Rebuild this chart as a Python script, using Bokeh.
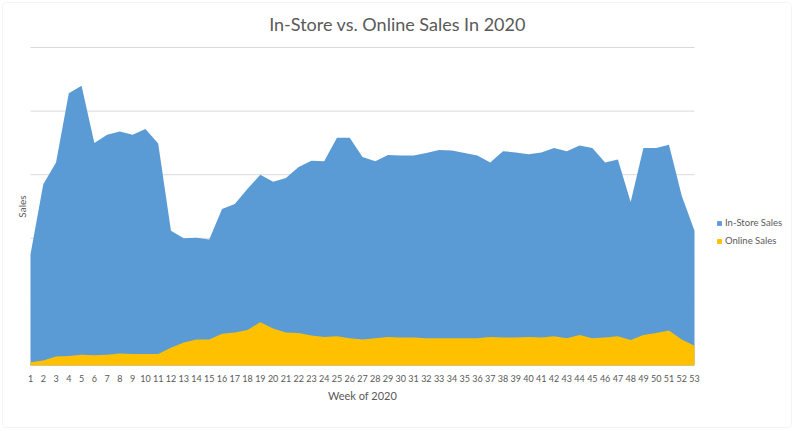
import math
from bokeh.plotting import figure
from bokeh.models import Range1d, FixedTicker, Legend, LegendItem, Label, BoxAnnotation
from bokeh.embed import file_html
from bokeh.resources import INLINE

weeks = list(range(1, 54))
in_store = [175, 285, 319, 428, 440, 350, 363, 368, 363, 372, 349, 212, 200, 201, 198,
            246, 254, 278, 300, 289, 295, 312, 322, 321, 358, 358, 328, 321, 331, 330,
            330, 334, 339, 338, 334, 330, 319, 337, 335, 332, 335, 342, 337, 346, 342,
            319, 324, 257, 342, 342, 347, 267, 212]
online = [5, 8, 14, 15, 17, 16, 17, 19, 18, 18, 18, 28, 36, 41, 41,
          50, 52, 56, 68, 58, 52, 51, 47, 45, 46, 43, 41, 43, 45, 44,
          44, 43, 43, 43, 43, 43, 45, 44, 44, 45, 44, 46, 43, 48, 43,
          44, 46, 40, 48, 51, 55, 41, 31]
tick_labels = [str(w) for w in weeks]
grid_ticks = [100, 200, 300, 400, 500]

TXT = "#595959"
FONT = "Lato"
W, H = 794, 431

# pixel geometry of the plotting area (weeks 1..53 span x=30..694, 0..500 spans y=365..47)
px_week = 664 / 52
px_unit = 318 / 500
x_start = weeks[0] - 30 / px_week
x_end = weeks[-1] + (W - 694) / px_week
y_start = -(H - 365) / px_unit
y_end = grid_ticks[-1] + 47 / px_unit


def sx(px):
    return x_start + px / px_week


def sy(py):
    return y_end - py / px_unit


p = figure(width=W, height=H, output_backend="svg", toolbar_location=None,
           x_range=Range1d(x_start, x_end), y_range=Range1d(y_start, y_end),
           min_border_left=0, min_border_right=0, min_border_top=0, min_border_bottom=0)
p.outline_line_color = None
p.background_fill_color = "white"
p.border_fill_color = "white"
p.grid.visible = False
p.yaxis.visible = False

# horizontal gridlines limited to the category span
p.segment(x0=[weeks[0]] * len(grid_ticks), x1=[weeks[-1]] * len(grid_ticks),
          y0=grid_ticks, y1=grid_ticks, line_color="#D9D9D9", line_width=1)

r_store = p.varea(x=weeks, y1=0, y2=in_store, fill_color="#5B9BD5")
r_online = p.varea(x=weeks, y1=0, y2=online, fill_color="#FFC000")

xa = p.xaxis[0]
xa.fixed_location = 0
xa.ticker = FixedTicker(ticks=weeks)
xa.bounds = (weeks[0], weeks[-1])
xa.major_label_overrides = {w: t for w, t in zip(weeks, tick_labels)}
xa.major_tick_out = 0
xa.major_tick_in = 0
xa.minor_tick_out = 0
xa.minor_tick_in = 0
xa.axis_line_color = None
xa.major_label_standoff = 9
xa.major_label_text_font = FONT
xa.major_label_text_font_size = "9px"
xa.major_label_text_color = TXT

# chart border
p.add_layout(BoxAnnotation(left=sx(2), right=sx(791), top=sy(2), bottom=sy(427),
                           fill_alpha=0, line_color="#D9D9D9", line_width=1,
                           border_radius=4))

p.add_layout(Label(x=sx(397), y=sy(23), text="In-Store vs. Online Sales In 2020",
                   text_font=FONT, text_font_size="18px", text_color=TXT,
                   text_align="center", text_baseline="middle"))
p.add_layout(Label(x=(weeks[0] + weeks[-1]) / 2, y=sy(395), text="Week of 2020",
                   text_font=FONT, text_font_size="11px", text_color=TXT,
                   text_align="center", text_baseline="middle"))
p.add_layout(Label(x=sx(21), y=grid_ticks[-1] / 2, text="Sales",
                   angle=math.pi / 2,
                   text_font=FONT, text_font_size="10px", text_color=TXT,
                   text_align="center", text_baseline="middle"))

legend = Legend(items=[LegendItem(label="In-Store Sales", renderers=[r_store]),
                       LegendItem(label="Online Sales", renderers=[r_online])],
                location=(716, 185), orientation="vertical",
                glyph_width=6, glyph_height=6, label_height=6, label_width=10,
                label_standoff=3, spacing=7, padding=0, margin=0,
                label_text_font=FONT, label_text_font_size="9.5px",
                label_text_color=TXT, border_line_color=None,
                background_fill_alpha=0)
p.add_layout(legend)

open("out.html", "w").write(file_html(p, INLINE))
